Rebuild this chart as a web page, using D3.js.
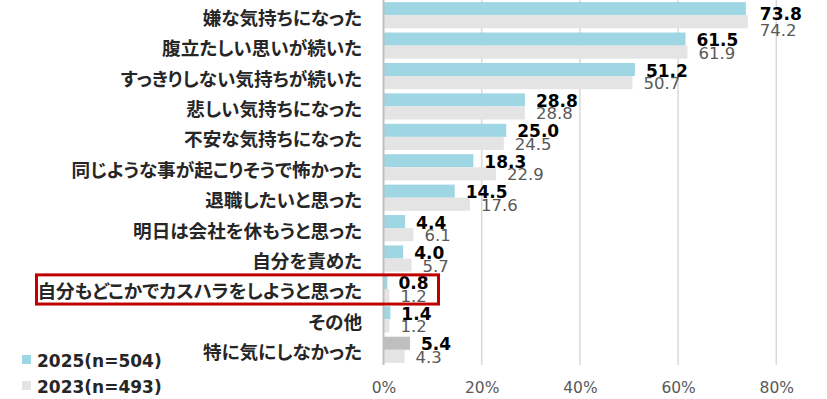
<!DOCTYPE html>
<html lang="ja">
<head>
<meta charset="utf-8">
<script src="https://cdn.jsdelivr.net/npm/d3@7"></script>
<style>
  html, body { margin: 0; padding: 0; background: #fff; }
  svg { display: block; }
  .cat { font-family: "Noto Sans CJK JP", sans-serif; font-weight: 700; font-size: 18.6px; fill: #262626; font-feature-settings: "palt"; }
  .val { font-family: "DejaVu Sans", Verdana, sans-serif; }
  .val.nuevo { font-weight: 700; font-size: 17px; fill: #000; }
  .val.viejo { font-size: 16.5px; fill: #595959; }
  .eje text { font-family: "DejaVu Sans", Verdana, sans-serif; font-size: 15.5px; fill: #595959; }
  .leyenda text { font-family: "DejaVu Sans", "Noto Sans CJK JP", sans-serif; font-weight: 700; font-size: 17px; fill: #262626; }
</style>
</head>
<body>
<div id="grafico"></div>
<script>
// datos, en el mismo orden de arriba a abajo
var categorias = [
  "嫌な気持ちになった",
  "腹立たしい思いが続いた",
  "すっきりしない気持ちが続いた",
  "悲しい気持ちになった",
  "不安な気持ちになった",
  "同じような事が起こりそうで怖かった",
  "退職したいと思った",
  "明日は会社を休もうと思った",
  "自分を責めた",
  "自分もどこかでカスハラをしようと思った",
  "その他",
  "特に気にしなかった"
];
var valores2025 = [73.8, 61.5, 51.2, 28.8, 25.0, 18.3, 14.5, 4.4, 4.0, 0.8, 1.4, 5.4];
var valores2023 = [74.2, 61.9, 50.7, 28.8, 24.5, 22.9, 17.6, 6.1, 5.7, 1.2, 1.2, 4.3];
var series = ["2025(n=504)", "2023(n=493)"];
var marcas = [0, 20, 40, 60, 80];
// la fila que va dentro del recuadro rojo
var destacada = "自分もどこかでカスハラをしようと思った";
// esta fila no lleva el celeste en 2025, va en gris oscuro
var sinCeleste = ["特に気にしなかった"];

(function () {
  var ANCHO = 827, ALTO = 399;
  var CELESTE = "#9fd6e4";
  var GRIS_CLARO = "#e4e4e4";
  var GRIS_OSCURO = "#bfbfbf";
  var ROJO = "#c00000";

  var svg = d3.select("#grafico").append("svg")
    .attr("width", ANCHO)
    .attr("height", ALTO);

  var x = d3.scaleLinear().domain([0, 80]).range([383.5, 776.3]);
  var y = d3.scaleBand()
    .domain(categorias)
    .range([0, 365])
    .paddingInner(0.14)
    .paddingOuter(0.07);
  var ySub = d3.scaleBand().domain(series).range([0, y.bandwidth()]);

  var filas = categorias.map(function (c, i) {
    return { cat: c, nuevo: valores2025[i], viejo: valores2023[i], primera: i === 0 };
  });

  // lineas de la grilla, van detras de las barras
  svg.append("g").selectAll("line")
    .data(marcas.filter(function (m) { return m > 0; }))
    .enter().append("line")
    .attr("x1", function (d) { return x(d); })
    .attr("x2", function (d) { return x(d); })
    .attr("y1", 0)
    .attr("y2", 365)
    .attr("stroke", "#d9d9d9")
    .attr("stroke-width", 1.5);

  var grupos = svg.append("g").selectAll("g.fila")
    .data(filas)
    .enter().append("g")
    .attr("class", "fila")
    .attr("transform", function (d) { return "translate(0," + y(d.cat) + ")"; });

  grupos.append("rect")
    .attr("x", x(0))
    .attr("y", ySub(series[0]))
    .attr("height", ySub.bandwidth())
    .attr("width", function (d) { return x(d.nuevo) - x(0); })
    .attr("fill", function (d) { return sinCeleste.indexOf(d.cat) >= 0 ? GRIS_OSCURO : CELESTE; });

  grupos.append("rect")
    .attr("x", x(0))
    .attr("y", ySub(series[1]))
    .attr("height", ySub.bandwidth())
    .attr("width", function (d) { return x(d.viejo) - x(0); })
    .attr("fill", GRIS_CLARO);

  // en la primera fila las etiquetas de valor quedaron un poco mas abajo
  // y a la derecha en el original (no caben pegadas al borde de arriba)
  grupos.append("text")
    .attr("class", "val nuevo")
    .attr("x", function (d) { return x(d.nuevo) + (d.primera ? 14 : 11); })
    .attr("y", function (d) { return ySub(series[0]) + ySub.bandwidth() / 2 + (d.primera ? 5 : 1); })
    .attr("dominant-baseline", "central")
    .text(function (d) { return d3.format(".1f")(d.nuevo); });

  grupos.append("text")
    .attr("class", "val viejo")
    .attr("x", function (d) { return x(d.viejo) + (d.primera ? 12 : 11); })
    .attr("y", function (d) { return ySub(series[1]) + ySub.bandwidth() / 2 + (d.primera ? 9 : 1); })
    .attr("dominant-baseline", "central")
    .text(function (d) { return d3.format(".1f")(d.viejo); });

  grupos.append("text")
    .attr("class", "cat")
    .attr("x", 362)
    .attr("y", y.bandwidth() / 2 + 1)
    .attr("text-anchor", "end")
    .attr("dominant-baseline", "central")
    .text(function (d) { return d.cat; });

  // eje vertical del cero encima de las barras
  svg.append("line")
    .attr("x1", x(0)).attr("x2", x(0))
    .attr("y1", 0).attr("y2", 365)
    .attr("stroke", "#bfbfbf")
    .attr("stroke-width", 2);

  var eje = d3.axisBottom(x)
    .tickValues(marcas)
    .tickSize(0)
    .tickPadding(17)
    .tickFormat(function (d) { return d + "%"; });

  svg.append("g")
    .attr("class", "eje")
    .attr("transform", "translate(0,365)")
    .call(eje)
    .call(function (g) { g.select(".domain").remove(); });

  // recuadro rojo alrededor de la fila destacada
  svg.append("rect")
    .attr("x", 36.5)
    .attr("y", y(destacada) - 1)
    .attr("width", 402)
    .attr("height", y.bandwidth() + 3)
    .attr("fill", "none")
    .attr("stroke", ROJO)
    .attr("stroke-width", 3);

  var leyenda = svg.append("g").attr("class", "leyenda")
    .selectAll("g")
    .data(series)
    .enter().append("g")
    .attr("transform", function (d, i) { return "translate(22," + (359.5 + i * 26) + ")"; });

  leyenda.append("rect")
    .attr("x", 0)
    .attr("y", -4.5)
    .attr("width", 9)
    .attr("height", 9)
    .attr("fill", function (d, i) { return i === 0 ? CELESTE : GRIS_CLARO; });

  leyenda.append("text")
    .attr("x", 15)
    .attr("y", 1)
    .attr("dominant-baseline", "central")
    .text(function (d) { return d; });
})();
</script>
</body>
</html>
